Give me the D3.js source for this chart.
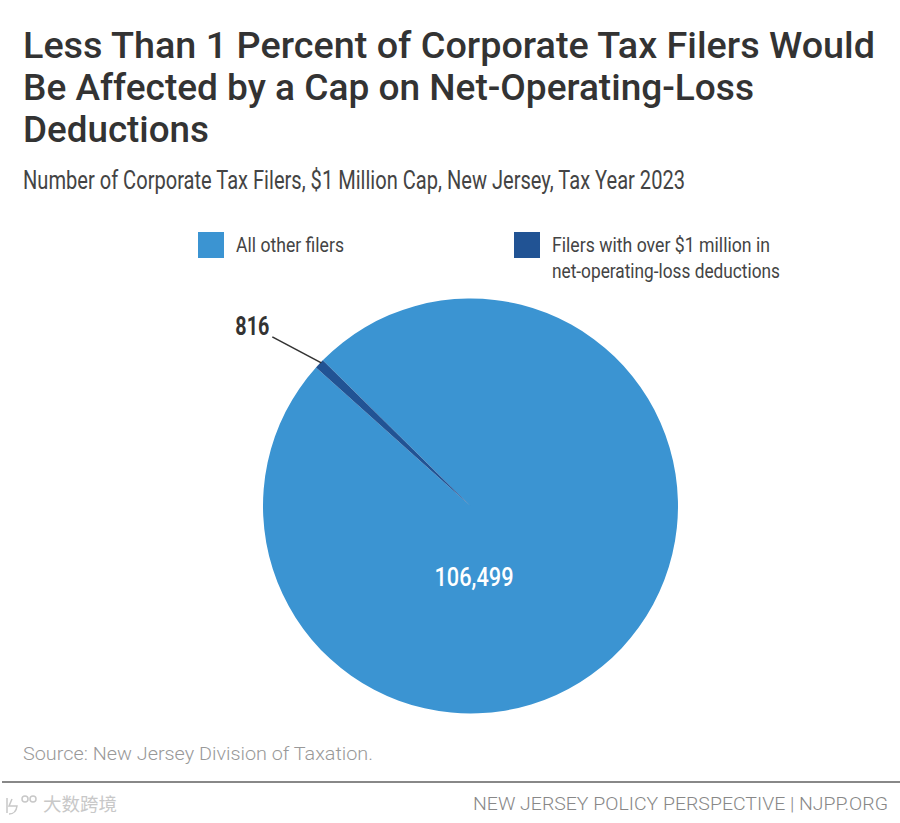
<!DOCTYPE html>
<html>
<head>
<meta charset="utf-8">
<script src="https://cdn.jsdelivr.net/npm/d3@7"></script>
<style>
  html, body { margin: 0; padding: 0; background: #fff; }
  svg { display: block; }
  text { font-family: Roboto, "Liberation Sans", sans-serif; }
  .narrow { font-family: "Liberation Sans Narrow", Roboto, sans-serif; }
</style>
</head>
<body>
<div id="chart"></div>
<script>
const categories = ['All other filers', 'Filers with over $1 million in net-operating-loss deductions'];
const filers = [106499, 816];
const sliceLabels = ['106,499', '816'];
const sliceColors = ['#3b94d2', '#215394'];
const titleLines = [
  'Less Than 1 Percent of Corporate Tax Filers Would',
  'Be Affected by a Cap on Net-Operating-Loss',
  'Deductions'
];
const subtitle = 'Number of Corporate Tax Filers, $1 Million Cap, New Jersey, Tax Year 2023';
const legendLines = [['All other filers'], ['Filers with over $1 million in', 'net-operating-loss deductions']];
const source = 'Source: New Jersey Division of Taxation.';
const credit = 'NEW JERSEY POLICY PERSPECTIVE | NJPP.ORG';
const watermark = '大数跨境';

const width = 900, height = 823;
const cx = 470.5, cy = 506, radius = 207.5;

const svg = d3.select('#chart').append('svg')
  .attr('width', width)
  .attr('height', height);

// title, widths fitted to the original
const titleWidths = [852, 731, 186];
svg.selectAll('text.title')
  .data(titleLines)
  .enter()
  .append('text')
  .attr('class', 'title')
  .attr('x', 23)
  .attr('y', (d, i) => 58 + i * 42)
  .attr('font-size', 36)
  .attr('font-weight', 500)
  .attr('fill', '#333')
  .attr('textLength', (d, i) => titleWidths[i])
  .attr('lengthAdjust', 'spacingAndGlyphs')
  .text(d => d);

svg.append('text')
  .attr('class', 'narrow')
  .attr('x', 23)
  .attr('y', 189)
  .attr('font-size', 25)
  .attr('fill', '#444')
  .attr('textLength', 662)
  .attr('lengthAdjust', 'spacingAndGlyphs')
  .text(subtitle);

// legend
const legendX = [198, 514];
const legendW = [[108], [218, 228]];
const legend = svg.selectAll('g.legend')
  .data(categories)
  .enter()
  .append('g')
  .attr('class', 'legend')
  .attr('transform', (d, i) => `translate(${legendX[i]},232)`);

legend.append('rect')
  .attr('width', 26)
  .attr('height', 26)
  .attr('fill', (d, i) => sliceColors[i]);

legend.each(function (d, i) {
  d3.select(this).selectAll('text')
    .data(legendLines[i])
    .enter()
    .append('text')
    .attr('class', 'narrow')
    .attr('x', 38)
    .attr('y', (l, j) => 20 + j * 26)
    .attr('font-size', 21)
    .attr('fill', '#444')
    .attr('textLength', (l, j) => legendW[i][j])
    .attr('lengthAdjust', 'spacingAndGlyphs')
    .text(l => l);
});

// pie: the small slice ends at about -45.4 degrees from the top
const offset = -45.4 * Math.PI / 180;
const pie = d3.pie().sort(null).startAngle(offset).endAngle(offset + 2 * Math.PI);
const arc = d3.arc().innerRadius(0).outerRadius(radius);
const arcs = pie(filers);

const g = svg.append('g').attr('transform', `translate(${cx},${cy})`);
g.selectAll('path')
  .data(arcs)
  .enter()
  .append('path')
  .attr('d', arc)
  .attr('fill', (d, i) => sliceColors[i]);

// leader line for the small slice
const mid = (arcs[1].startAngle + arcs[1].endAngle) / 2;
const edge = [Math.sin(mid) * radius, -Math.cos(mid) * radius];
g.append('line')
  .attr('x1', edge[0] + 2)
  .attr('y1', edge[1] - 1)
  .attr('x2', edge[0] - 47)
  .attr('y2', edge[1] - 27)
  .attr('stroke', '#333')
  .attr('stroke-width', 1.6);

g.append('text')
  .attr('class', 'narrow')
  .attr('x', edge[0] - 67)
  .attr('y', edge[1] - 29)
  .attr('text-anchor', 'middle')
  .attr('font-size', 25)
  .attr('font-weight', 700)
  .attr('fill', '#333')
  .attr('textLength', 34)
  .attr('lengthAdjust', 'spacingAndGlyphs')
  .text(sliceLabels[1]);

g.append('text')
  .attr('class', 'narrow')
  .attr('x', 3.5)
  .attr('y', 80)
  .attr('text-anchor', 'middle')
  .attr('font-size', 26)
  .attr('font-weight', 500)
  .attr('fill', '#fff')
  .attr('textLength', 79)
  .attr('lengthAdjust', 'spacingAndGlyphs')
  .text(sliceLabels[0]);

// footer
svg.append('text')
  .attr('x', 23)
  .attr('y', 760)
  .attr('font-size', 19)
  .attr('font-weight', 300)
  .attr('fill', '#999')
  .attr('textLength', 350)
  .attr('lengthAdjust', 'spacingAndGlyphs')
  .text(source);

svg.append('line')
  .attr('x1', 2)
  .attr('x2', width)
  .attr('y1', 782)
  .attr('y2', 782)
  .attr('stroke', '#888')
  .attr('stroke-width', 2);

svg.append('text')
  .attr('x', 888)
  .attr('y', 810)
  .attr('text-anchor', 'end')
  .attr('font-size', 18)
  .attr('font-weight', 300)
  .attr('fill', '#888')
  .attr('textLength', 415)
  .attr('lengthAdjust', 'spacingAndGlyphs')
  .text(credit);

// faint logo and watermark in the corner
const logo = svg.append('g')
  .attr('fill', 'none')
  .attr('stroke', '#c8c8c8')
  .attr('stroke-width', 1.5);
logo.append('path').attr('d', 'M7,798 V813 M12,799 L9,806 L17,806 Q16,814 9,814');
logo.append('circle').attr('cx', 25).attr('cy', 799).attr('r', 3);
logo.append('circle').attr('cx', 33).attr('cy', 799).attr('r', 3);

svg.append('text')
  .attr('x', 43)
  .attr('y', 811)
  .attr('font-size', 18.5)
  .attr('fill', '#c8c8c8')
  .style('font-family', '"Noto Sans CJK SC"')
  .text(watermark);
</script>
</body>
</html>
